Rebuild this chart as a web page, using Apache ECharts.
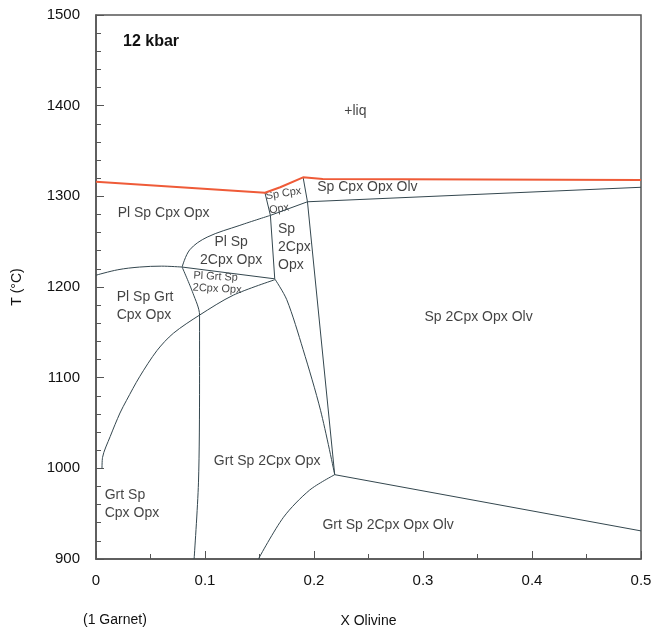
<!DOCTYPE html>
<html>
<head>
<meta charset="utf-8">
<script src="https://cdn.jsdelivr.net/npm/echarts@6/dist/echarts.min.js"></script>
<style>
  html, body { margin: 0; padding: 0; background: #fff; }
  #chart { width: 653px; height: 630px; }
</style>
</head>
<body>
<div id="chart"></div>
<script>
// phase boundaries, [X olivine, T in °C]
const liquidus = [[0, 1316], [0.155, 1304], [0.169, 1310], [0.19, 1321], [0.208, 1319], [0.5, 1318]];
const spCpxLeft = [[0.155, 1304], [0.160, 1279], [0.164, 1209]];
const spOut = [[0.164, 1209], [0.175, 1186], [0.190, 1131], [0.206, 1064], [0.219, 993]];
const spCpxRight = [[0.190, 1321], [0.194, 1294], [0.219, 993]];
const olvIn = [[0.160, 1279], [0.194, 1294], [0.5, 1310]];
const plSpCurve = [[0.160, 1279], [0.132, 1268], [0.102, 1255], [0.086, 1241], [0.079, 1222]];
const grtIn = [[0, 1213], [0.02, 1219], [0.04, 1222], [0.06, 1223], [0.079, 1222]];
const plGrtTop = [[0.079, 1222], [0.164, 1209]];
const plOut = [[0.164, 1208], [0.126, 1191], [0.095, 1169], [0.071, 1149], [0.056, 1130], [0.040, 1101],
  [0.028, 1075], [0.022, 1061], [0.013, 1035], [0.006, 1012], [0.0055, 1000]];
const cpxOut = [[0.079, 1222], [0.089, 1193], [0.095, 1169], [0.095, 1094], [0.094, 984], [0.090, 900]];
const olvLow = [[0.149, 900], [0.172, 946], [0.196, 976], [0.219, 993]];
const olvRight = [[0.219, 993], [0.5, 931]];

const xTicks = [0, 0.5, 0.1];
const yTicks = [900, 1500, 100];

// field labels: text, x, T, align, rotate, size
const fields = [
  ['+liq', 0.238, 1394, 'center', 0, 14],
  ['Sp Cpx Opx Olv', 0.249, 1310, 'center', 0, 14],
  ['Pl Sp Cpx Opx', 0.062, 1282, 'center', 0, 14],
  ['Sp Cpx', 0.172, 1303, 'center', 9, 11],
  ['Opx', 0.168, 1286, 'center', 9, 11],
  ['Pl Sp\n2Cpx Opx', 0.124, 1240, 'center', 0, 14],
  ['Sp\n2Cpx\nOpx', 0.167, 1244, 'left', 0, 14],
  ['Pl Grt Sp\n2Cpx Opx', 0.089, 1206, 'left', -3, 11],
  ['Pl Sp Grt\nCpx Opx', 0.019, 1179, 'left', 0, 14],
  ['Sp 2Cpx Opx Olv', 0.351, 1167, 'center', 0, 14],
  ['Grt Sp 2Cpx Opx', 0.157, 1008, 'center', 0, 14],
  ['Grt Sp\nCpx Opx', 0.008, 960, 'left', 0, 14],
  ['Grt Sp 2Cpx Opx Olv', 0.268, 937, 'center', 0, 14]
];

const font = 'Liberation Sans, Arial, Helvetica, sans-serif';
const ink = '#111';
const lineColor = '#34474f';

const boundary = (data, smooth) => ({
  type: 'line',
  data,
  smooth: smooth || false,
  symbol: 'none',
  silent: true,
  lineStyle: { color: lineColor, width: 1 }
});

const chart = echarts.init(document.getElementById('chart'), null, { renderer: 'canvas' });
chart.setOption({
  animation: false,
  backgroundColor: '#fff',
  textStyle: { fontFamily: font },
  grid: {
    left: 96, right: 12, top: 15, bottom: 71,
    outerBoundsMode: 'none', containLabel: false,
    show: true, borderColor: '#555', borderWidth: 1.5, backgroundColor: 'transparent'
  },
  xAxis: {
    type: 'value',
    min: xTicks[0], max: xTicks[1], interval: xTicks[2],
    name: 'X Olivine', nameLocation: 'middle', nameGap: 55,
    nameTextStyle: { color: ink, fontSize: 14, fontFamily: font },
    axisLine: { lineStyle: { color: '#555', width: 1.5 } },
    axisTick: { inside: true, length: 8, lineStyle: { color: '#555' } },
    minorTick: { show: true, splitNumber: 2, length: 5, lineStyle: { color: '#555' } },
    axisLabel: { color: ink, fontSize: 15, margin: 14, fontFamily: font },
    splitLine: { show: false }
  },
  yAxis: {
    type: 'value',
    min: yTicks[0], max: yTicks[1], interval: yTicks[2],
    name: 'T (°C)', nameLocation: 'middle', nameGap: 72, nameRotate: 90,
    nameTextStyle: { color: ink, fontSize: 14, fontFamily: font },
    axisLine: { lineStyle: { color: '#555', width: 1.5 } },
    axisTick: { inside: true, length: 8, lineStyle: { color: '#555' } },
    minorTick: { show: true, splitNumber: 5, length: 5, lineStyle: { color: '#555' } },
    axisLabel: { color: ink, fontSize: 15, margin: 16, fontFamily: font, formatter: v => String(v) },
    splitLine: { show: false }
  },
  graphic: [
    { type: 'text', left: 83, top: 613, style: { text: '(1 Garnet)', font: '14px ' + font, fill: ink } },
    { type: 'text', left: 123, top: 34, style: { text: '12 kbar', font: 'bold 16px ' + font, fill: ink } }
  ],
  series: [
    boundary(spCpxLeft, false),
    boundary(spOut, 0.3),
    boundary(spCpxRight, false),
    boundary(olvIn, false),
    boundary(plSpCurve, 0.35),
    boundary(grtIn, 0.35),
    boundary(plGrtTop, false),
    boundary(plOut, 0.3),
    boundary(cpxOut, 0.3),
    boundary(olvLow, 0.3),
    boundary(olvRight, false),
    {
      type: 'line',
      data: liquidus,
      symbol: 'none',
      silent: true,
      lineStyle: { color: '#ef5b38', width: 2 }
    },
    {
      type: 'scatter',
      symbolSize: 0,
      silent: true,
      data: fields.map(f => ({
        value: [f[1], f[2]],
        label: {
          show: true,
          position: 'inside',
          formatter: f[0],
          align: f[3],
          rotate: f[4],
          fontSize: f[5],
          lineHeight: f[5] === 14 ? 18 : 12,
          color: ink,
          fontFamily: font
        }
      }))
    }
  ]
});
</script>
</body>
</html>
